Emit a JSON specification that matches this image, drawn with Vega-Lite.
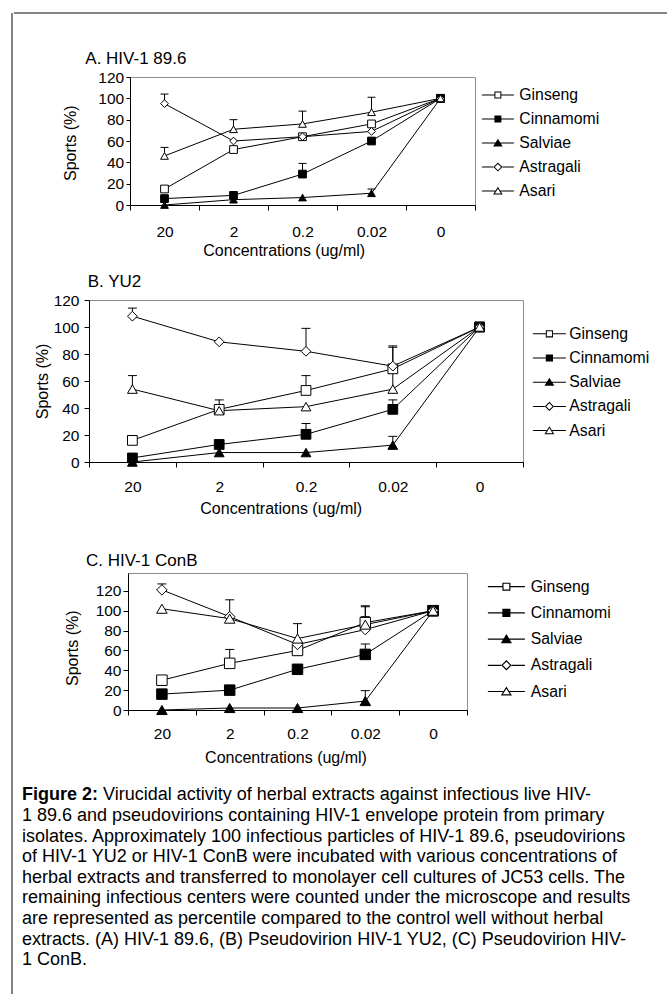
{
  "$schema": "https://vega.github.io/schema/vega-lite/v6.json",
  "background": "white",
  "padding": {"left": 11, "top": 12, "right": 0, "bottom": 0},
  "spacing": 0,
  "datasets": {
    "A": [
      {"conc": "20", "herb": "Ginseng", "v": 15},
      {"conc": "2", "herb": "Ginseng", "v": 52},
      {"conc": "0.2", "herb": "Ginseng", "v": 64},
      {"conc": "0.02", "herb": "Ginseng", "v": 76},
      {"conc": "0", "herb": "Ginseng", "v": 100},
      {"conc": "20", "herb": "Cinnamomi", "v": 6},
      {"conc": "2", "herb": "Cinnamomi", "v": 9},
      {"conc": "0.2", "herb": "Cinnamomi", "v": 29, "hi": 39},
      {"conc": "0.02", "herb": "Cinnamomi", "v": 60},
      {"conc": "0", "herb": "Cinnamomi", "v": 100},
      {"conc": "20", "herb": "Salviae", "v": 0},
      {"conc": "2", "herb": "Salviae", "v": 5},
      {"conc": "0.2", "herb": "Salviae", "v": 7},
      {"conc": "0.02", "herb": "Salviae", "v": 11, "hi": 15},
      {"conc": "0", "herb": "Salviae", "v": 100},
      {"conc": "20", "herb": "Astragali", "v": 95, "hi": 104},
      {"conc": "2", "herb": "Astragali", "v": 60},
      {"conc": "0.2", "herb": "Astragali", "v": 64},
      {"conc": "0.02", "herb": "Astragali", "v": 69},
      {"conc": "0", "herb": "Astragali", "v": 100},
      {"conc": "20", "herb": "Asari", "v": 46, "hi": 54},
      {"conc": "2", "herb": "Asari", "v": 71, "hi": 80},
      {"conc": "0.2", "herb": "Asari", "v": 76, "hi": 88},
      {"conc": "0.02", "herb": "Asari", "v": 87, "hi": 101},
      {"conc": "0", "herb": "Asari", "v": 100}
    ],
    "B": [
      {"conc": "20", "herb": "Ginseng", "v": 16},
      {"conc": "2", "herb": "Ginseng", "v": 39, "hi": 46},
      {"conc": "0.2", "herb": "Ginseng", "v": 53, "hi": 64},
      {"conc": "0.02", "herb": "Ginseng", "v": 69, "hi": 85},
      {"conc": "0", "herb": "Ginseng", "v": 100},
      {"conc": "20", "herb": "Cinnamomi", "v": 3},
      {"conc": "2", "herb": "Cinnamomi", "v": 13},
      {"conc": "0.2", "herb": "Cinnamomi", "v": 20.5, "hi": 28.5},
      {"conc": "0.02", "herb": "Cinnamomi", "v": 39, "hi": 46},
      {"conc": "0", "herb": "Cinnamomi", "v": 100},
      {"conc": "20", "herb": "Salviae", "v": 0},
      {"conc": "2", "herb": "Salviae", "v": 7},
      {"conc": "0.2", "herb": "Salviae", "v": 7},
      {"conc": "0.02", "herb": "Salviae", "v": 12.5, "hi": 19},
      {"conc": "0", "herb": "Salviae", "v": 100},
      {"conc": "20", "herb": "Astragali", "v": 108, "hi": 114},
      {"conc": "2", "herb": "Astragali", "v": 89},
      {"conc": "0.2", "herb": "Astragali", "v": 82, "hi": 99},
      {"conc": "0.02", "herb": "Astragali", "v": 71, "hi": 86},
      {"conc": "0", "herb": "Astragali", "v": 100},
      {"conc": "20", "herb": "Asari", "v": 54, "hi": 64},
      {"conc": "2", "herb": "Asari", "v": 38},
      {"conc": "0.2", "herb": "Asari", "v": 41},
      {"conc": "0.02", "herb": "Asari", "v": 54, "hi": 66},
      {"conc": "0", "herb": "Asari", "v": 100}
    ],
    "C": [
      {"conc": "20", "herb": "Ginseng", "v": 30},
      {"conc": "2", "herb": "Ginseng", "v": 47, "hi": 61},
      {"conc": "0.2", "herb": "Ginseng", "v": 60},
      {"conc": "0.02", "herb": "Ginseng", "v": 88, "hi": 105},
      {"conc": "0", "herb": "Ginseng", "v": 100},
      {"conc": "20", "herb": "Cinnamomi", "v": 16},
      {"conc": "2", "herb": "Cinnamomi", "v": 20},
      {"conc": "0.2", "herb": "Cinnamomi", "v": 41},
      {"conc": "0.02", "herb": "Cinnamomi", "v": 56, "hi": 66.5},
      {"conc": "0", "herb": "Cinnamomi", "v": 100},
      {"conc": "20", "herb": "Salviae", "v": 0},
      {"conc": "2", "herb": "Salviae", "v": 2},
      {"conc": "0.2", "herb": "Salviae", "v": 2},
      {"conc": "0.02", "herb": "Salviae", "v": 9, "hi": 19.5},
      {"conc": "0", "herb": "Salviae", "v": 100},
      {"conc": "20", "herb": "Astragali", "v": 121, "hi": 127},
      {"conc": "2", "herb": "Astragali", "v": 94, "hi": 111},
      {"conc": "0.2", "herb": "Astragali", "v": 66},
      {"conc": "0.02", "herb": "Astragali", "v": 81, "hi": 94},
      {"conc": "0", "herb": "Astragali", "v": 100},
      {"conc": "20", "herb": "Asari", "v": 102},
      {"conc": "2", "herb": "Asari", "v": 92},
      {"conc": "0.2", "herb": "Asari", "v": 72, "hi": 87},
      {"conc": "0.02", "herb": "Asari", "v": 86, "hi": 104},
      {"conc": "0", "herb": "Asari", "v": 100}
    ],
    "cap": [
      {"line": 1, "part": "label", "text": "Figure 2:"},
      {"line": 1, "part": "head", "text": "Virucidal activity of herbal extracts against infectious live HIV-"},
      {"line": 2, "part": "body", "text": "1 89.6 and pseudovirions containing HIV-1 envelope protein from primary"},
      {"line": 3, "part": "body", "text": "isolates. Approximately 100 infectious particles of HIV-1 89.6, pseudovirions"},
      {"line": 4, "part": "body", "text": "of HIV-1 YU2 or HIV-1 ConB were incubated with various concentrations of"},
      {"line": 5, "part": "body", "text": "herbal extracts and transferred to monolayer cell cultures of JC53 cells.  The"},
      {"line": 6, "part": "body", "text": "remaining infectious centers were counted under the microscope and results"},
      {"line": 7, "part": "body", "text": "are represented as percentile compared to the control well without herbal"},
      {"line": 8, "part": "body", "text": "extracts.  (A) HIV-1 89.6, (B) Pseudovirion HIV-1 YU2, (C) Pseudovirion HIV-"},
      {"line": 9, "part": "body", "text": "1 ConB."}
    ]
  },
  "hconcat": [
    {
      "width": 1, "height": 990,
      "view": {"stroke": null},
      "data": {"values": [{"b": 0}]},
      "mark": {"type": "rule", "color": "#5a5a5a", "strokeWidth": 1.5},
      "encoding": {"x": {"field": "b", "type": "quantitative", "scale": {"domain": [0, 1]}, "axis": null}}
    },
    {
      "spacing": 0,
      "vconcat": [
        {
          "width": 656, "height": 35.5,
          "view": {"stroke": null},
          "data": {"values": [{"b": 1}]},
          "mark": {"type": "rule", "color": "#5a5a5a", "strokeWidth": 1.5},
          "encoding": {"y": {"field": "b", "type": "quantitative", "scale": {"domain": [0, 1]}, "axis": null}}
        },
        {
          "spacing": 0,
          "hconcat": [
            {"width": 47.4, "height": 194.5, "view": {"stroke": null}, "data": {"values": [{"s": 0}]}, "mark": {"type": "point", "opacity": 0}, "encoding": {}},
            {
              "width": 345, "height": 128,
              "title": {"text": "A. HIV-1 89.6", "anchor": "start", "frame": "group", "dx": -44.7, "offset": 1.9},
              "data": {"name": "A"},
              "encoding": {
                "x": {"field": "conc", "type": "ordinal", "sort": ["20", "2", "0.2", "0.02", "0"], "scale": {"type": "band", "paddingInner": 0, "paddingOuter": 0}, "axis": {"title": "Concentrations (ug/ml)", "labelAngle": 0, "tickBand": "extent", "tickSize": 5, "labelBaseline": "middle", "labelPadding": 21.1, "titleX": 153.7, "titleY": 45.3, "titleBaseline": "middle", "titleAlign": "center"}},
                "y": {"field": "v", "type": "quantitative", "scale": {"domain": [0, 120], "nice": false}, "axis": {"title": "Sports (%)", "values": [0, 20, 40, 60, 80, 100, 120], "tickSize": 4, "labelPadding": 2.3, "titleX": -59.2, "titleY": 65.7, "titleBaseline": "middle", "titleAngle": 270, "titleAlign": "center"}}
              },
              "layer": [
                {"mark": {"type": "line", "color": "black", "strokeWidth": 1}, "encoding": {"detail": {"field": "herb", "type": "nominal"}, "order": {"value": null}}},
                {"transform": [{"filter": {"field": "hi", "valid": true}}], "mark": {"type": "rule", "color": "black", "strokeWidth": 1}, "encoding": {"y2": {"field": "hi"}}},
                {"transform": [{"filter": {"field": "hi", "valid": true}}], "mark": {"type": "tick", "color": "black", "thickness": 1, "size": 8, "opacity": 1, "orient": "horizontal"}, "encoding": {"y": {"field": "hi", "type": "quantitative"}}},
                {"mark": {"type": "point", "filled": true, "stroke": "black", "strokeWidth": 1, "opacity": 1}, "encoding": {
                  "shape": {"field": "herb", "type": "nominal", "scale": {"domain": ["Ginseng", "Cinnamomi", "Salviae", "Astragali", "Asari"], "range": ["square", "square", "triangle-up", "diamond", "triangle-up"]}, "legend": null},
                  "fill": {"field": "herb", "type": "nominal", "scale": {"domain": ["Ginseng", "Cinnamomi", "Salviae", "Astragali", "Asari"], "range": ["white", "black", "black", "white", "white"]}, "legend": null},
                  "size": {"field": "herb", "type": "nominal", "scale": {"domain": ["Ginseng", "Cinnamomi", "Salviae", "Astragali", "Asari"], "range": [60, 60, 121, 121, 121]}, "legend": null}}},
                {"data": {"values": []}, "mark": {"type": "point", "filled": true, "color": "black", "strokeWidth": 0, "opacity": 1}, "encoding": {
                  "shape": {"field": "herb", "type": "nominal", "scale": {"domain": ["Ginseng", "Cinnamomi", "Salviae", "Astragali", "Asari"], "range": ["M-2.667,-0.083H-0.58V0.083H-2.667ZM0.58,-0.083H2.667V0.083H0.58ZM-0.58,-0.58H0.58V0.58H-0.58ZM-0.413,-0.413V0.413H0.413V-0.413Z", "M-2.667,-0.083H2.667V0.083H-2.667ZM-0.58,-0.58H0.58V0.58H-0.58Z", "M-2.667,-0.083H2.667V0.083H-2.667ZM0,-0.72L0.8,0.58H-0.8Z", "M-2.667,-0.083H-0.75V0.083H-2.667ZM0.75,-0.083H2.667V0.083H0.75ZM0,-0.75L0.75,0L0,0.75L-0.75,0ZM0,-0.514L-0.514,0L0,0.514L0.514,0Z", "M-2.667,-0.083H-0.443V0.083H-2.667ZM0.443,-0.083H2.667V0.083H0.443ZM0,-0.72L0.8,0.58H-0.8ZM0,-0.401L-0.501,0.413H0.501Z"]}, "legend": {"orient": "none", "legendX": 360, "legendY": 10.2, "title": null, "symbolSize": 144, "symbolStrokeWidth": 0, "symbolFillColor": "black", "rowPadding": 7.0, "labelOffset": 13.5, "padding": 0}}}}
              ],
              "resolve": {"scale": {"shape": "independent", "fill": "independent", "size": "independent"}, "legend": {"shape": "independent", "fill": "independent", "size": "independent"}}
            }
          ]
        },
        {
          "spacing": 0,
          "hconcat": [
            {"width": 19.4, "height": 251, "view": {"stroke": null}, "data": {"values": [{"s": 0}]}, "mark": {"type": "point", "opacity": 0}, "encoding": {}},
            {
              "width": 434, "height": 162,
              "title": {"text": "B. YU2", "anchor": "start", "frame": "group", "dx": -1.3, "offset": 2.2},
              "data": {"name": "B"},
              "encoding": {
                "x": {"field": "conc", "type": "ordinal", "sort": ["20", "2", "0.2", "0.02", "0"], "scale": {"type": "band", "paddingInner": 0, "paddingOuter": 0}, "axis": {"title": "Concentrations (ug/ml)", "labelAngle": 0, "tickBand": "extent", "tickSize": 5, "labelBaseline": "middle", "labelPadding": 19.5, "titleX": 191.7, "titleY": 46.4, "titleBaseline": "middle", "titleAlign": "center"}},
                "y": {"field": "v", "type": "quantitative", "scale": {"domain": [0, 120], "nice": false}, "axis": {"title": "Sports (%)", "values": [0, 20, 40, 60, 80, 100, 120], "tickSize": 5, "labelPadding": 5, "titleX": -46.2, "titleY": 81, "titleBaseline": "middle", "titleAngle": 270, "titleAlign": "center"}}
              },
              "layer": [
                {"mark": {"type": "line", "color": "black", "strokeWidth": 1}, "encoding": {"detail": {"field": "herb", "type": "nominal"}, "order": {"value": null}}},
                {"transform": [{"filter": {"field": "hi", "valid": true}}], "mark": {"type": "rule", "color": "black", "strokeWidth": 1}, "encoding": {"y2": {"field": "hi"}}},
                {"transform": [{"filter": {"field": "hi", "valid": true}}], "mark": {"type": "tick", "color": "black", "thickness": 1, "size": 9, "opacity": 1, "orient": "horizontal"}, "encoding": {"y": {"field": "hi", "type": "quantitative"}}},
                {"mark": {"type": "point", "filled": true, "stroke": "black", "strokeWidth": 1, "opacity": 1}, "encoding": {
                  "shape": {"field": "herb", "type": "nominal", "scale": {"domain": ["Ginseng", "Cinnamomi", "Salviae", "Astragali", "Asari"], "range": ["square", "square", "triangle-up", "diamond", "triangle-up"]}, "legend": null},
                  "fill": {"field": "herb", "type": "nominal", "scale": {"domain": ["Ginseng", "Cinnamomi", "Salviae", "Astragali", "Asari"], "range": ["white", "black", "black", "white", "white"]}, "legend": null},
                  "size": {"field": "herb", "type": "nominal", "scale": {"domain": ["Ginseng", "Cinnamomi", "Salviae", "Astragali", "Asari"], "range": [95, 95, 130, 110, 130]}, "legend": null}}},
                {"data": {"values": []}, "mark": {"type": "point", "filled": true, "color": "black", "strokeWidth": 0, "opacity": 1}, "encoding": {
                  "shape": {"field": "herb", "type": "nominal", "scale": {"domain": ["Ginseng", "Cinnamomi", "Salviae", "Astragali", "Asari"], "range": ["M-2.667,-0.083H-0.58V0.083H-2.667ZM0.58,-0.083H2.667V0.083H0.58ZM-0.58,-0.58H0.58V0.58H-0.58ZM-0.413,-0.413V0.413H0.413V-0.413Z", "M-2.667,-0.083H2.667V0.083H-2.667ZM-0.58,-0.58H0.58V0.58H-0.58Z", "M-2.667,-0.083H2.667V0.083H-2.667ZM0,-0.72L0.8,0.58H-0.8Z", "M-2.667,-0.083H-0.75V0.083H-2.667ZM0.75,-0.083H2.667V0.083H0.75ZM0,-0.75L0.75,0L0,0.75L-0.75,0ZM0,-0.514L-0.514,0L0,0.514L0.514,0Z", "M-2.667,-0.083H-0.443V0.083H-2.667ZM0.443,-0.083H2.667V0.083H0.443ZM0,-0.72L0.8,0.58H-0.8ZM0,-0.401L-0.501,0.413H0.501Z"]}, "legend": {"orient": "none", "legendX": 452.5, "legendY": 25.9, "title": null, "symbolSize": 153, "symbolStrokeWidth": 0, "symbolFillColor": "black", "rowPadding": 7.2, "labelOffset": 12, "padding": 0}}}}
              ],
              "resolve": {"scale": {"shape": "independent", "fill": "independent", "size": "independent"}, "legend": {"shape": "independent", "fill": "independent", "size": "independent"}}
            }
          ]
        },
        {
          "spacing": 0,
          "hconcat": [
            {"width": 48.1, "height": 212, "view": {"stroke": null}, "data": {"values": [{"s": 0}]}, "mark": {"type": "point", "opacity": 0}, "encoding": {}},
            {
              "width": 339, "height": 137,
              "title": {"text": "C. HIV-1 ConB", "anchor": "start", "frame": "group", "dx": -42, "offset": 2.9},
              "data": {"name": "C"},
              "encoding": {
                "x": {"field": "conc", "type": "ordinal", "sort": ["20", "2", "0.2", "0.02", "0"], "scale": {"type": "band", "paddingInner": 0, "paddingOuter": 0}, "axis": {"title": "Concentrations (ug/ml)", "labelAngle": 0, "tickBand": "extent", "tickSize": 5, "labelBaseline": "middle", "labelPadding": 18.2, "titleX": 157.5, "titleY": 47.4, "titleBaseline": "middle", "titleAlign": "center"}},
                "y": {"field": "v", "type": "quantitative", "scale": {"domain": [0, 138], "nice": false}, "axis": {"title": "Sports (%)", "values": [0, 20, 40, 60, 80, 100, 120], "tickSize": 5, "labelPadding": 2, "titleX": -55.5, "titleY": 74.7, "titleBaseline": "middle", "titleAngle": 270, "titleAlign": "center"}}
              },
              "layer": [
                {"mark": {"type": "line", "color": "black", "strokeWidth": 1}, "encoding": {"detail": {"field": "herb", "type": "nominal"}, "order": {"value": null}}},
                {"transform": [{"filter": {"field": "hi", "valid": true}}], "mark": {"type": "rule", "color": "black", "strokeWidth": 1}, "encoding": {"y2": {"field": "hi"}}},
                {"transform": [{"filter": {"field": "hi", "valid": true}}], "mark": {"type": "tick", "color": "black", "thickness": 1, "size": 9, "opacity": 1, "orient": "horizontal"}, "encoding": {"y": {"field": "hi", "type": "quantitative"}}},
                {"mark": {"type": "point", "filled": true, "stroke": "black", "strokeWidth": 1, "opacity": 1}, "encoding": {
                  "shape": {"field": "herb", "type": "nominal", "scale": {"domain": ["Ginseng", "Cinnamomi", "Salviae", "Astragali", "Asari"], "range": ["square", "square", "triangle-up", "diamond", "triangle-up"]}, "legend": null},
                  "fill": {"field": "herb", "type": "nominal", "scale": {"domain": ["Ginseng", "Cinnamomi", "Salviae", "Astragali", "Asari"], "range": ["white", "black", "black", "white", "white"]}, "legend": null},
                  "size": {"field": "herb", "type": "nominal", "scale": {"domain": ["Ginseng", "Cinnamomi", "Salviae", "Astragali", "Asari"], "range": [110, 110, 170, 144, 170]}, "legend": null}}},
                {"data": {"values": []}, "mark": {"type": "point", "filled": true, "color": "black", "strokeWidth": 0, "opacity": 1}, "encoding": {
                  "shape": {"field": "herb", "type": "nominal", "scale": {"domain": ["Ginseng", "Cinnamomi", "Salviae", "Astragali", "Asari"], "range": ["M-2.667,-0.083H-0.58V0.083H-2.667ZM0.58,-0.083H2.667V0.083H0.58ZM-0.58,-0.58H0.58V0.58H-0.58ZM-0.413,-0.413V0.413H0.413V-0.413Z", "M-2.667,-0.083H2.667V0.083H-2.667ZM-0.58,-0.58H0.58V0.58H-0.58Z", "M-2.667,-0.083H2.667V0.083H-2.667ZM0,-0.72L0.8,0.58H-0.8Z", "M-2.667,-0.083H-0.75V0.083H-2.667ZM0.75,-0.083H2.667V0.083H0.75ZM0,-0.75L0.75,0L0,0.75L-0.75,0ZM0,-0.514L-0.514,0L0,0.514L0.514,0Z", "M-2.667,-0.083H-0.443V0.083H-2.667ZM0.443,-0.083H2.667V0.083H0.443ZM0,-0.72L0.8,0.58H-0.8ZM0,-0.401L-0.501,0.413H0.501Z"]}, "legend": {"orient": "none", "legendX": 370.5, "legendY": 5.8, "title": null, "symbolSize": 193, "symbolStrokeWidth": 0, "symbolFillColor": "black", "rowPadding": 9.2, "labelOffset": 16.5, "padding": 0}}}}
              ],
              "resolve": {"scale": {"shape": "independent", "fill": "independent", "size": "independent"}, "legend": {"shape": "independent", "fill": "independent", "size": "independent"}}
            }
          ]
        },
        {
          "width": 640, "height": 185.4,
          "view": {"stroke": null},
          "data": {"name": "cap"},
          "encoding": {
            "y": {"field": "line", "type": "ordinal", "axis": null, "scale": {"type": "band", "paddingInner": 0, "paddingOuter": 0}},
            "x": {"datum": 0, "type": "quantitative", "scale": {"domain": [0, 1]}, "axis": null},
            "text": {"field": "text", "type": "nominal"}
          },
          "layer": [
            {"transform": [{"filter": {"field": "part", "equal": "label"}}], "mark": {"type": "text", "align": "left", "baseline": "middle", "dx": 8, "fontSize": 18, "fontWeight": "bold", "color": "black"}},
            {"transform": [{"filter": {"field": "part", "equal": "head"}}], "mark": {"type": "text", "align": "left", "baseline": "middle", "dx": 89, "fontSize": 18, "color": "black"}},
            {"transform": [{"filter": {"field": "part", "equal": "body"}}], "mark": {"type": "text", "align": "left", "baseline": "middle", "dx": 8, "fontSize": 18, "color": "black"}}
          ]
        }
      ]
    }
  ],
  "config": {
    "font": "Liberation Sans",
    "view": {"stroke": "#8c8c8c", "strokeWidth": 1},
    "axis": {"grid": false, "domainColor": "black", "domainWidth": 1, "tickColor": "black", "tickWidth": 1, "labelColor": "black", "labelFont": "Liberation Sans", "labelFontSize": 15.5, "titleColor": "black", "titleFont": "Liberation Sans", "titleFontSize": 16, "titleFontWeight": "normal", "labelFlush": false, "labelOverlap": false},
    "legend": {"labelColor": "black", "labelFont": "Liberation Sans", "labelFontSize": 15.8},
    "title": {"font": "Liberation Sans", "fontSize": 17, "fontWeight": "normal", "color": "black"},
    "text": {"font": "Liberation Sans"}
  }
}
